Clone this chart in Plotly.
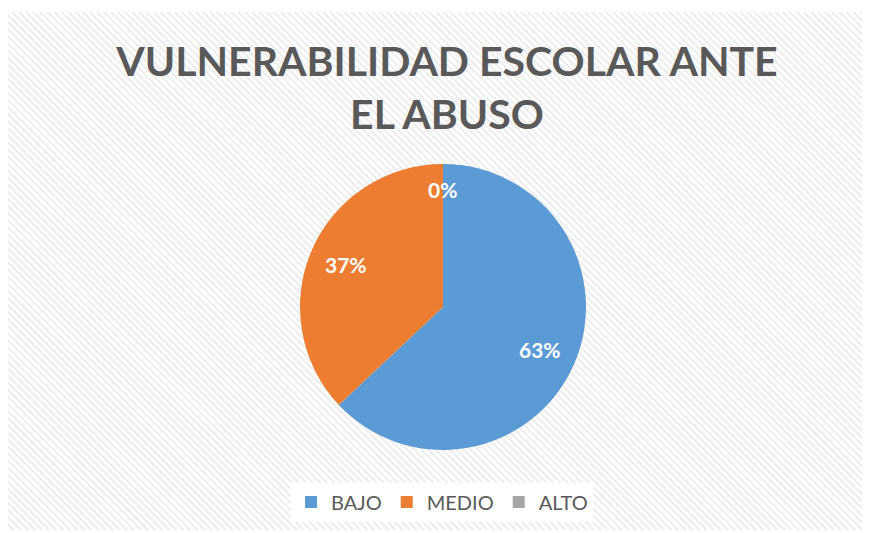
import math
import plotly.graph_objects as go

categories = ["BAJO", "MEDIO", "ALTO"]
values = [63, 37, 0]
colors = ["#5b9bd5", "#ed7d31", "#a5a5a5"]
title_text = "VULNERABILIDAD ESCOLAR ANTE<br>EL ABUSO"

# page is offset by the 8px body margin of the html page
OFF = 8
W, H = 862, 525


def px(xp):
    return (xp - OFF) / W


def py(yp):
    return 1 - (yp - OFF) / H


CX, CY, R = 443, 307, 143  # pie centre / radius, page pixels

fig = go.Figure()

# patterned chart-area background
fig.add_trace(go.Scatter(
    x=[px(8), px(862), px(862), px(8), px(8)],
    y=[py(530), py(530), py(12), py(12), py(530)],
    mode="lines", fill="toself",
    line=dict(width=0, color="rgba(0,0,0,0)"),
    fillcolor="white",
    fillpattern=dict(shape="\\", fgcolor="#ececec", bgcolor="white",
                     size=5, solidity=0.4, fillmode="replace"),
    showlegend=False, hoverinfo="skip",
))

fig.add_trace(go.Pie(
    labels=categories,
    values=values,
    sort=False,
    direction="clockwise",
    rotation=0,
    marker=dict(colors=colors, line=dict(color="white", width=0)),
    textinfo="none",
    domain=dict(x=[px(CX - R), px(CX + R)], y=[py(CY + R), py(CY - R)]),
    hoverinfo="label+percent",
))

# soft shadow around the pie
for i, op in enumerate([0.06, 0.045, 0.03, 0.02, 0.01]):
    d = 1.5 + i * 2
    fig.add_shape(
        type="circle", xref="paper", yref="paper",
        x0=px(CX - R - d), x1=px(CX + R + d),
        y0=py(CY + R + d), y1=py(CY - R - d),
        fillcolor=f"rgba(0,0,0,{op})", line=dict(width=0), layer="below",
    )

# percentage labels, placed from the slice angles
total = sum(values)
cum = 0
annotations = []
for v in values:
    mid = (cum + v / 2) / total
    cum += v
    theta = 2 * math.pi * mid
    r = R * (0.82 if v == 0 else 0.74)
    annotations.append(dict(
        x=px(CX + r * math.sin(theta)), y=py(CY - r * math.cos(theta)),
        xref="paper", yref="paper", showarrow=False,
        text=f"{round(100 * v / total)}%",
        font=dict(family="Lato", size=21, color="white", weight="bold"),
        xanchor="center", yanchor="middle",
    ))

fig.update_layout(
    width=W, height=H,
    margin=dict(l=0, r=0, t=0, b=0),
    paper_bgcolor="white",
    plot_bgcolor="white",
    xaxis=dict(visible=False, range=[0, 1], domain=[0, 1], fixedrange=True),
    yaxis=dict(visible=False, range=[0, 1], domain=[0, 1], fixedrange=True),
    title=dict(
        text=title_text,
        x=px(447), xanchor="center",
        y=1 - 68 / H, yanchor="top",
        font=dict(family="Lato", size=41, color="#595959", weight="bold"),
    ),
    annotations=annotations,
    showlegend=True,
    legend=dict(
        orientation="h",
        x=px(442), xanchor="center",
        y=py(502), yanchor="middle",
        bgcolor="white",
        font=dict(family="Lato", size=20, color="#595959"),
        traceorder="normal",
    ),
)

fig.write_html("out.html")
